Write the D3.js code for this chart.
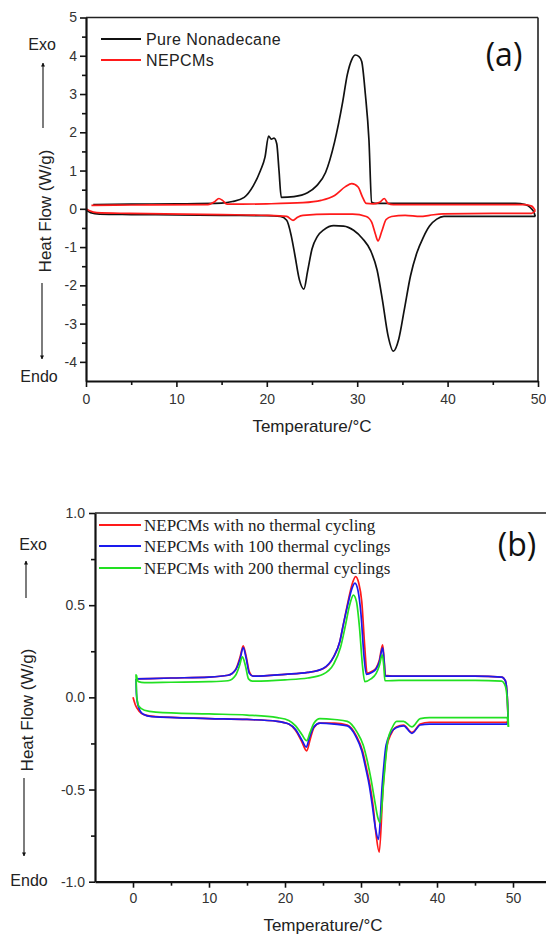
<!DOCTYPE html>
<html>
<head>
<meta charset="utf-8">
<script src="https://cdn.jsdelivr.net/npm/d3@7"></script>
<style>
body { margin: 0; background: #fff; }
svg { display: block; }
</style>
</head>
<body>
<svg id="chart" width="546" height="934"></svg>
<script>
// panel (a): [temperature, heat flow]
var nonadecaneHeating = [[0.0,-0.02],[0.5,-0.1],[1.5,-0.14],[5,-0.15],[10,-0.16],[15,-0.17],[20,-0.18],[21.5,-0.2],[22.2,-0.3],[22.7,-0.7],[23.1,-1.2],[23.6,-1.85],[24.1,-2.1],[24.5,-1.65],[25.0,-1.05],[25.6,-0.72],[26.3,-0.55],[27.4,-0.44],[28.5,-0.45],[29.6,-0.56],[30.6,-0.78],[31.5,-1.1],[32.2,-1.6],[32.8,-2.4],[33.4,-3.3],[34.0,-3.72],[34.6,-3.4],[35.2,-2.65],[35.9,-1.75],[36.6,-1.15],[37.3,-0.75],[38.0,-0.45],[38.8,-0.27],[39.6,-0.2],[45,-0.2],[49.7,-0.2]];
var nonadecaneCooling = [[0.8,0.11],[5,0.12],[10,0.13],[15,0.15],[16.2,0.19],[17.5,0.3],[18.5,0.6],[19.3,1.0],[19.8,1.35],[20.2,1.9],[20.5,1.82],[20.8,1.85],[21.1,1.7],[21.35,1.0],[21.6,0.3],[23,0.32],[24.5,0.42],[25.5,0.6],[26.5,0.95],[27.5,1.75],[28.4,2.8],[28.9,3.5],[29.4,3.9],[29.8,4.02],[30.2,3.98],[30.5,3.85],[30.9,3.0],[31.3,1.8],[31.6,0.17],[32,0.14],[40,0.14],[47.5,0.14],[48.6,0.11],[49.2,0.02],[49.6,-0.12],[49.7,-0.2]];
var nepcmHeating = [[0,0.0],[0.4,-0.05],[1.2,-0.1],[4.8,-0.12],[15,-0.15],[20,-0.17],[22.2,-0.2],[22.9,-0.3],[23.4,-0.22],[24,-0.17],[27,-0.14],[29.5,-0.14],[31,-0.2],[31.6,-0.35],[32.0,-0.65],[32.3,-0.84],[32.7,-0.6],[33.2,-0.28],[33.8,-0.2],[35.3,-0.17],[37,-0.2],[38,-0.17],[39.5,-0.13],[45,-0.12],[49.3,-0.12],[49.7,-0.05]];
var nepcmCooling = [[0.6,0.09],[5,0.1],[13.5,0.11],[14.2,0.18],[14.7,0.27],[15.1,0.22],[15.6,0.12],[20,0.13],[24,0.16],[26,0.22],[27.5,0.35],[28.7,0.58],[29.4,0.66],[30.1,0.57],[30.6,0.3],[31.0,0.14],[31.8,0.13],[32.5,0.17],[33.0,0.27],[33.4,0.14],[34,0.11],[45,0.11],[48.5,0.11],[49.3,0.07],[49.7,-0.05]];

// panel (b): [temperature, heat flow]
var cycle0Heating = [[0,0.0],[0.3,-0.04],[0.8,-0.075],[1.5,-0.095],[3,-0.105],[10,-0.115],[15,-0.12],[19,-0.13],[20.5,-0.145],[21.4,-0.18],[22.2,-0.24],[22.85,-0.29],[23.3,-0.23],[23.8,-0.165],[24.6,-0.14],[26.5,-0.14],[28.2,-0.15],[29.4,-0.21],[30.2,-0.29],[30.7,-0.38],[31.2,-0.48],[31.6,-0.59],[32.0,-0.75],[32.4,-0.84],[32.9,-0.49],[33.4,-0.27],[34.0,-0.195],[34.7,-0.16],[35.6,-0.15],[36.7,-0.19],[37.8,-0.145],[39,-0.135],[45,-0.135],[49.2,-0.135],[49.35,-0.12]];
var cycle0Cooling = [[0.4,0.1],[5,0.105],[10,0.11],[12.5,0.12],[13.5,0.15],[14.1,0.22],[14.5,0.28],[14.9,0.22],[15.3,0.14],[15.8,0.115],[20,0.125],[23,0.135],[25,0.155],[26.4,0.22],[27.2,0.3],[27.7,0.4],[28.3,0.52],[28.8,0.61],[29.3,0.655],[29.7,0.62],[30.1,0.52],[30.5,0.27],[30.8,0.13],[31.4,0.14],[32.0,0.16],[32.4,0.2],[32.85,0.285],[33.05,0.2],[33.2,0.12],[35,0.115],[45,0.115],[48.5,0.11],[49.0,0.09],[49.25,0.0],[49.35,-0.12]];
var cycle100Heating = [[0.4,0.1],[0.45,0.02],[0.7,-0.05],[1.3,-0.09],[2.5,-0.105],[10,-0.115],[15,-0.12],[19,-0.13],[20.5,-0.145],[21.4,-0.175],[22.2,-0.23],[22.8,-0.27],[23.2,-0.22],[23.8,-0.16],[24.6,-0.14],[26.5,-0.145],[28.2,-0.155],[29.3,-0.21],[30.1,-0.29],[30.6,-0.38],[31.1,-0.48],[31.5,-0.59],[31.9,-0.71],[32.3,-0.77],[32.8,-0.47],[33.3,-0.26],[33.9,-0.195],[34.6,-0.165],[35.6,-0.155],[36.7,-0.195],[37.8,-0.15],[39,-0.145],[45,-0.145],[49.2,-0.145],[49.35,-0.12]];
var cycle100Cooling = [[0.4,0.1],[5,0.105],[10,0.11],[12.5,0.12],[13.5,0.15],[14.1,0.21],[14.5,0.27],[14.9,0.21],[15.3,0.13],[15.8,0.115],[20,0.125],[23,0.135],[25,0.157],[26.4,0.22],[27.2,0.3],[27.7,0.4],[28.3,0.51],[28.8,0.59],[29.2,0.62],[29.6,0.58],[30.0,0.45],[30.4,0.22],[30.7,0.125],[31.4,0.135],[32.0,0.155],[32.4,0.19],[32.85,0.268],[33.05,0.19],[33.2,0.115],[35,0.115],[45,0.115],[48.5,0.11],[49.0,0.09],[49.25,0.0],[49.35,-0.12]];
var cycle200Heating = [[0.4,0.125],[0.5,0.0],[0.8,-0.05],[1.5,-0.07],[3,-0.08],[10,-0.09],[15,-0.096],[19,-0.11],[20.5,-0.125],[21.4,-0.155],[22.2,-0.2],[22.85,-0.235],[23.3,-0.19],[23.8,-0.14],[24.6,-0.115],[26.5,-0.12],[28.2,-0.13],[29.5,-0.19],[30.3,-0.26],[30.8,-0.34],[31.3,-0.44],[31.8,-0.56],[32.2,-0.65],[32.5,-0.68],[33.0,-0.45],[33.5,-0.24],[34.1,-0.165],[34.7,-0.13],[35.6,-0.13],[36.7,-0.16],[37.8,-0.115],[39,-0.11],[45,-0.11],[49.2,-0.11],[49.4,-0.16]];
var cycle200Cooling = [[0.45,0.12],[0.7,0.085],[1.5,0.08],[5,0.082],[10,0.085],[12.5,0.09],[13.5,0.12],[14.0,0.17],[14.4,0.22],[14.8,0.17],[15.2,0.1],[15.7,0.088],[20,0.095],[23,0.105],[25,0.125],[26.4,0.18],[27.3,0.27],[27.9,0.38],[28.5,0.5],[29.0,0.555],[29.4,0.52],[29.8,0.38],[30.2,0.17],[30.5,0.085],[31.3,0.1],[32.0,0.13],[32.4,0.17],[32.8,0.23],[33.0,0.17],[33.15,0.09],[35,0.092],[45,0.092],[48.5,0.088],[49.0,0.06],[49.3,-0.05],[49.4,-0.16]];

var legendA = ["Pure Nonadecane", "NEPCMs"];
var legendB = ["NEPCMs with no thermal cycling", "NEPCMs with 100 thermal cyclings", "NEPCMs with 200 thermal cyclings"];
var xTicksA = [0, 10, 20, 30, 40, 50];
var xMinorA = [5, 15, 25, 35, 45];
var yTicksA = [-4, -3, -2, -1, 0, 1, 2, 3, 4, 5];
var yMinorA = [-3.5, -2.5, -1.5, -0.5, 0.5, 1.5, 2.5, 3.5, 4.5];
var xTicksB = [0, 10, 20, 30, 40, 50];
var xMinorB = [5, 15, 25, 35, 45];
var yTicksB = [-1, -0.5, 0, 0.5, 1];
var yMinorB = [-0.75, -0.25, 0.25, 0.75];

var svg = d3.select("#chart");
var sans = "'Liberation Sans', Arial, sans-serif";

var defs = svg.append("defs");
defs.append("marker")
    .attr("id", "head")
    .attr("viewBox", "0 0 10 10")
    .attr("refX", 9).attr("refY", 5)
    .attr("markerWidth", 4).attr("markerHeight", 7)
    .attr("markerUnits", "userSpaceOnUse")
    .attr("orient", "auto")
    .append("path")
    .attr("d", "M0,0 L10,5 L0,10 z")
    .attr("fill", "#111");

function panel(o) {
    var x = d3.scaleLinear().domain(o.xDomain).range(o.xRange);
    var y = d3.scaleLinear().domain(o.yDomain).range(o.yRange);
    var g = svg.append("g");

    // box top / right
    g.append("line")
        .attr("x1", o.xRange[0]).attr("x2", o.xRange[1])
        .attr("y1", o.yRange[1]).attr("y2", o.yRange[1])
        .attr("stroke", "#222").attr("stroke-width", 1.6);
    g.append("line")
        .attr("x1", o.xRange[1]).attr("x2", o.xRange[1])
        .attr("y1", o.yRange[0]).attr("y2", o.yRange[1])
        .attr("stroke", "#222").attr("stroke-width", 1.6);

    var line = d3.line()
        .x(function (d) { return x(d[0]); })
        .y(function (d) { return y(d[1]); })
        .curve(d3.curveMonotoneX);

    o.series.forEach(function (s) {
        [s.heat, s.cool].forEach(function (arr) {
            g.append("path")
                .attr("d", line(arr))
                .attr("fill", "none")
                .attr("stroke", s.color)
                .attr("stroke-width", 1.7)
                .attr("stroke-linejoin", "round");
        });
    });

    // minor ticks
    g.append("g")
        .attr("transform", "translate(0," + o.yRange[0] + ")")
        .call(d3.axisBottom(x).tickValues(o.xMinor).tickSize(4).tickFormat(""))
        .call(function (a) { a.select(".domain").remove(); });
    g.append("g")
        .attr("transform", "translate(" + o.xRange[0] + ",0)")
        .call(d3.axisLeft(y).tickValues(o.yMinor).tickSize(4).tickFormat(""))
        .call(function (a) { a.select(".domain").remove(); });

    var xAxis = g.append("g")
        .attr("transform", "translate(0," + o.yRange[0] + ")")
        .call(d3.axisBottom(x).tickValues(o.xTicks).tickSize(6).tickSizeOuter(0)
            .tickPadding(o.xPad).tickFormat(function (d) { return String(d); }));
    var yAxis = g.append("g")
        .attr("transform", "translate(" + o.xRange[0] + ",0)")
        .call(d3.axisLeft(y).tickValues(o.yTicks).tickSize(6).tickSizeOuter(0)
            .tickPadding(o.yPad).tickFormat(o.yFormat));

    [xAxis, yAxis].forEach(function (a) {
        a.select(".domain").attr("stroke", "#111").attr("stroke-width", 2.2);
        a.selectAll(".tick text").attr("font-family", sans).attr("font-size", 14).attr("fill", "#333");
    });
    g.selectAll(".tick line").attr("stroke", "#111").attr("stroke-width", 1.6);

    // axis titles
    g.append("text")
        .attr("x", (o.xRange[0] + o.xRange[1]) / 2).attr("y", o.xTitleY)
        .attr("text-anchor", "middle")
        .attr("font-family", sans).attr("font-size", 17).attr("fill", "#222")
        .text("Temperature/\u00b0C");
    g.append("text")
        .attr("transform", "translate(" + o.yTitle[0] + "," + o.yTitle[1] + ") rotate(-90)")
        .attr("text-anchor", "middle")
        .attr("font-family", sans).attr("font-size", 17).attr("fill", "#222")
        .text("Heat Flow (W/g)");

    g.append("text")
        .attr("x", o.exo[0]).attr("y", o.exo[1])
        .attr("text-anchor", "middle")
        .attr("font-family", sans).attr("font-size", 16).attr("fill", "#222")
        .text("Exo");
    g.append("text")
        .attr("x", o.endo[0]).attr("y", o.endo[1])
        .attr("text-anchor", "middle")
        .attr("font-family", sans).attr("font-size", 16).attr("fill", "#222")
        .text("Endo");
    [o.upArrow, o.downArrow].forEach(function (a) {
        g.append("line")
            .attr("x1", a[0]).attr("x2", a[0])
            .attr("y1", a[1]).attr("y2", a[2])
            .attr("stroke", "#111").attr("stroke-width", 1.1)
            .attr("marker-end", "url(#head)");
    });

    // legend
    o.series.forEach(function (s, i) {
        var ly = o.legend.y[i];
        g.append("line")
            .attr("x1", o.legend.x1).attr("x2", o.legend.x2)
            .attr("y1", ly).attr("y2", ly)
            .attr("stroke", s.color).attr("stroke-width", 1.8);
        g.append("text")
            .attr("x", o.legend.tx).attr("y", ly).attr("dy", "0.35em")
            .attr("font-family", o.legend.font).attr("font-size", o.legend.size)
            .attr("letter-spacing", o.legend.spacing).attr("fill", "#222")
            .text(o.labels[i]);
    });

    g.append("text")
        .attr("x", o.tag[0]).attr("y", o.tag[1])
        .attr("text-anchor", "middle")
        .attr("font-family", "'Open Sans', sans-serif").attr("font-size", 32).attr("fill", "#111")
        .text(o.tagText);
}

panel({
    xDomain: [0, 50], xRange: [86, 538],
    yDomain: [-4.5, 5], yRange: [381, 17.5],
    xTicks: xTicksA, xMinor: xMinorA, yTicks: yTicksA, yMinor: yMinorA,
    xPad: 7, yPad: 3,
    yFormat: function (d) { return String(d); },
    xTitleY: 432, yTitle: [51, 211],
    exo: [42, 50], endo: [39, 382],
    upArrow: [43, 128, 63], downArrow: [42, 283, 359],
    series: [
        {color: "#111111", heat: nonadecaneHeating, cool: nonadecaneCooling},
        {color: "#ff1a1a", heat: nepcmHeating, cool: nepcmCooling}
    ],
    labels: legendA,
    legend: {x1: 101, x2: 141, tx: 146, y: [39, 60], font: sans, size: 16, spacing: 0.4},
    tag: [504, 66], tagText: "(a)"
});

panel({
    xDomain: [-5, 55], xRange: [95, 551],
    yDomain: [-1, 1], yRange: [881.7, 513],
    xTicks: xTicksB, xMinor: xMinorB, yTicks: yTicksB, yMinor: yMinorB,
    xPad: 5, yPad: 4,
    yFormat: function (d) { return d.toFixed(1); },
    xTitleY: 931, yTitle: [33, 710],
    exo: [33, 550], endo: [29, 886],
    upArrow: [26, 598, 561], downArrow: [24, 778, 856],
    series: [
        {color: "#ff1a1a", heat: cycle0Heating, cool: cycle0Cooling},
        {color: "#1a1aee", heat: cycle100Heating, cool: cycle100Cooling},
        {color: "#22e022", heat: cycle200Heating, cool: cycle200Cooling}
    ],
    labels: legendB,
    legend: {x1: 99, x2: 141, tx: 144, y: [525, 546, 568], font: "'Liberation Serif', 'Times New Roman', serif", size: 17, spacing: 0},
    tag: [517, 556], tagText: "(b)"
});
</script>
</body>
</html>
